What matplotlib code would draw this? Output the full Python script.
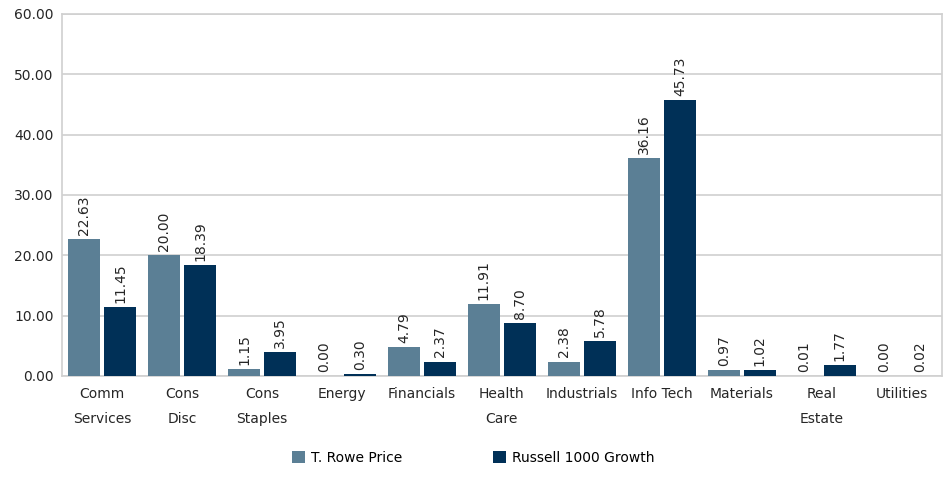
import matplotlib
matplotlib.use("Agg")
import matplotlib.pyplot as plt
import numpy as np

# sector weights (%)
sectors = ["Comm\nServices", "Cons\nDisc", "Cons\nStaples", "Energy", "Financials",
           "Health\nCare", "Industrials", "Info Tech", "Materials", "Real\nEstate", "Utilities"]
trowe = [22.63, 20.00, 1.15, 0.00, 4.79, 11.91, 2.38, 36.16, 0.97, 0.01, 0.00]
russell = [11.45, 18.39, 3.95, 0.30, 2.37, 8.70, 5.78, 45.73, 1.02, 1.77, 0.02]
yticks = [0, 10, 20, 30, 40, 50, 60]

light = "#5b7f95"
dark = "#003057"
grid = "#d0d0d0"
txt = "#262626"

plt.rcParams['font.family'] = ['DejaVu Sans']

fig = plt.figure(figsize=(9.47, 4.82), dpi=100)
ax = fig.add_axes([0.0655, 0.22, 0.929, 0.751])

x = np.arange(len(sectors))
w = 0.4
gap = 0.025
b1 = ax.bar(x - w / 2 - gap, trowe, w, color=light, label="T. Rowe Price", zorder=3)
b2 = ax.bar(x + w / 2 + gap, russell, w, color=dark, label="Russell 1000 Growth", zorder=3)

for bars, vals in ((b1, trowe), (b2, russell)):
    for r, v in zip(bars, vals):
        ax.annotate("%.2f" % v, (r.get_x() + r.get_width() / 2, v),
                    xytext=(0, 3), textcoords="offset points",
                    rotation=90, ha="center", va="bottom", fontsize=10, color=txt)

ax.set_xlim(-0.5, len(sectors) - 0.5)
ax.set_ylim(0, 60)
ax.set_yticks(yticks)
ax.set_yticklabels(["%.2f" % t for t in yticks], fontsize=10, color=txt)
ax.set_xticks(x)
ax.set_xticklabels(sectors, fontsize=10, color=txt, linespacing=2.0)
ax.tick_params(axis="both", length=0, pad=6)
ax.tick_params(axis="x", pad=8)
ax.yaxis.grid(True, color=grid, linewidth=1.2, zorder=0)
for s in ax.spines.values():
    s.set_color(grid)
    s.set_linewidth(1.2)

fig.legend(loc="lower center", bbox_to_anchor=(0.5, 0.01), ncol=2, frameon=False,
           fontsize=10, handlelength=0.9, handleheight=0.9, handletextpad=0.5,
           columnspacing=6.5)

fig.savefig("out.png", dpi=100)
